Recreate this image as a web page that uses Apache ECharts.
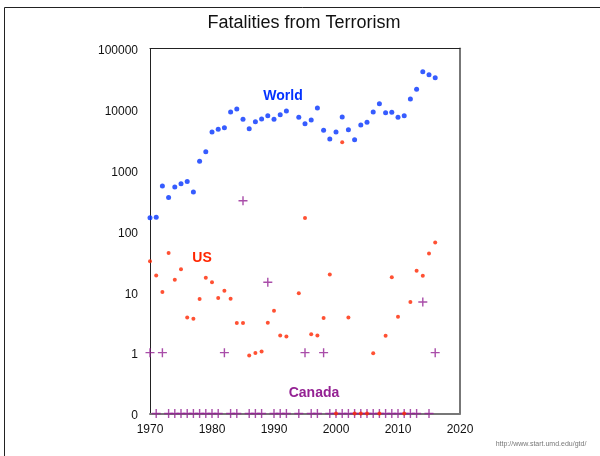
<!DOCTYPE html>
<html>
<head>
<meta charset="utf-8">
<script src="https://cdn.jsdelivr.net/npm/echarts@6/dist/echarts.min.js"></script>
<style>html,body{margin:0;padding:0;background:#fff}#c{width:600px;height:456px}</style>
</head>
<body>
<div id="c"></div>
<script>
var years = [1970,1971,1972,1973,1974,1975,1976,1977,1978,1979,1980,1981,1982,1983,1984,1985,1986,1987,1988,1989,1990,1991,1992,
             1994,1995,1996,1997,1998,1999,2000,2001,2002,2003,2004,2005,2006,2007,2008,2009,2010,2011,2012,2013,2014,2015,2016];
var world = [165,169,548,357,527,597,654,436,1396,2010,4235,4690,4980,9020,10120,6850,4800,6250,6920,7850,6850,8150,9370,
             7380,5800,6670,10500,4515,3250,4235,7470,4620,3160,5520,6110,9020,12360,8790,8930,7380,7850,14760,21320,41500,37070,33100];
var us = [31.7,18.6,9.9,43.3,15.8,23.4,3.8,3.6,7.6,17,14.4,7.9,10.4,7.7,3.06,3.06,0.9,0.99,1.05,3.1,4.9,1.92,1.85,
          9.5,163,2.0,1.92,3.73,19.3,0,2865,3.8,0,0,0,0.98,0,1.89,17.3,3.88,0,6.8,22.2,18.3,42.8,65];
var canada = [1,0,1,0,0,0,0,0,0,0,0,0,1,0,0,314,0,0,0,14.4,0,0,0,
              0,1,0,0,1,0,0,0,0,0,0,0,0,0,0,0,0,0,0,0,6.8,0,1];
var yTicks = [0.1,1,10,100,1000,10000,100000];
var yTickLabels = ['0','1','10','100','1000','10000','100000'];
var xMin = 1970, xMax = 2020, xStep = 10;

var ZERO_AT = yTicks[0];
function pts(vals){ return vals.map(function(v,i){ return [years[i], v > 0 ? v : ZERO_AT]; }); }
var FONT = '"Liberation Sans", Arial, Helvetica, sans-serif';
var plus = 'path://M3.8,0H5.2V9H3.8Z M0,3.8H9V5.2H0Z';

var chart = echarts.init(document.getElementById('c'), null, {renderer:'canvas'});
chart.setOption({
  animation:false,
  backgroundColor:'#fff',
  title:{text:'Fatalities from Terrorism', left:299, top:9, textAlign:'center',
         textStyle:{fontFamily:FONT, fontSize:18, fontWeight:'normal', color:'#111'}},
  grid:{left:150, right:140, top:48.5, bottom:42.5},
  xAxis:[{type:'value', min:xMin, max:xMax, interval:xStep, position:'bottom',
          axisLine:{show:true, onZero:false, lineStyle:{color:'#777', width:2}},
          axisTick:{show:false}, splitLine:{show:false},
          axisLabel:{margin:10, fontFamily:FONT, fontSize:12, color:'#111',
                     formatter:function(v){ return String(v); }}},
         {type:'value', min:xMin, max:xMax, position:'top',
          axisLine:{show:true, onZero:false, lineStyle:{color:'#222', width:1}},
          axisTick:{show:false}, splitLine:{show:false}, axisLabel:{show:false}}],
  yAxis:[{type:'log', logBase:10, min:yTicks[0], max:yTicks[yTicks.length-1], interval:1,
          axisLine:{show:true, onZero:false, lineStyle:{color:'#222', width:1}},
          axisTick:{show:false}, splitLine:{show:false}, minorTick:{show:false},
          axisLabel:{margin:12, fontFamily:FONT, fontSize:12, color:'#111',
            rich:{v:{fontFamily:FONT, fontSize:12, color:'#111', padding:[5,0,0,0]}},
            formatter:function(v){ var k=yTicks.findIndex(function(t){return Math.abs(Math.log10(t)-Math.log10(v))<0.01;}); return k>=0?'{v|'+yTickLabels[k]+'}':''; }}},
         {type:'log', logBase:10, min:yTicks[0], max:yTicks[yTicks.length-1], position:'right',
          axisLine:{show:true, onZero:false, lineStyle:{color:'#777', width:2}},
          axisTick:{show:false}, splitLine:{show:false}, axisLabel:{show:false}}],
  series:[
    {name:'Canada', type:'scatter', data:pts(canada), symbol:plus, symbolSize:9,
     itemStyle:{color:'#942193'}, z:3},
    {name:'US', type:'scatter', data:pts(us), symbol:'circle', symbolSize:4,
     itemStyle:{color:'#FF2600'}, z:4},
    {name:'World', type:'scatter', data:pts(world), symbol:'circle', symbolSize:5,
     itemStyle:{color:'#0433FF'}, z:5}
  ],
  graphic:[
    {type:'line', shape:{x1:4.5,y1:7.5,x2:4.5,y2:456}, style:{stroke:'#222', lineWidth:1}},
    {type:'line', shape:{x1:4.5,y1:7.5,x2:600,y2:7.5}, style:{stroke:'#222', lineWidth:1}},
    {type:'text', x:283, y:96, style:{text:'World', fill:'#0433FF', font:'bold 14px '+FONT, textAlign:'center', textVerticalAlign:'middle'}},
    {type:'text', x:202, y:258, style:{text:'US', fill:'#FF2600', font:'bold 14px '+FONT, textAlign:'center', textVerticalAlign:'middle'}},
    {type:'text', x:314, y:393.5, style:{text:'Canada', fill:'#942193', font:'bold 14px '+FONT, textAlign:'center', textVerticalAlign:'middle'}},
    {type:'text', x:541, y:444.5, style:{text:'http://www.start.umd.edu/gtd/', fill:'#777', font:'7px '+FONT, textAlign:'center', textVerticalAlign:'middle'}}
  ]
});
</script>
</body>
</html>
